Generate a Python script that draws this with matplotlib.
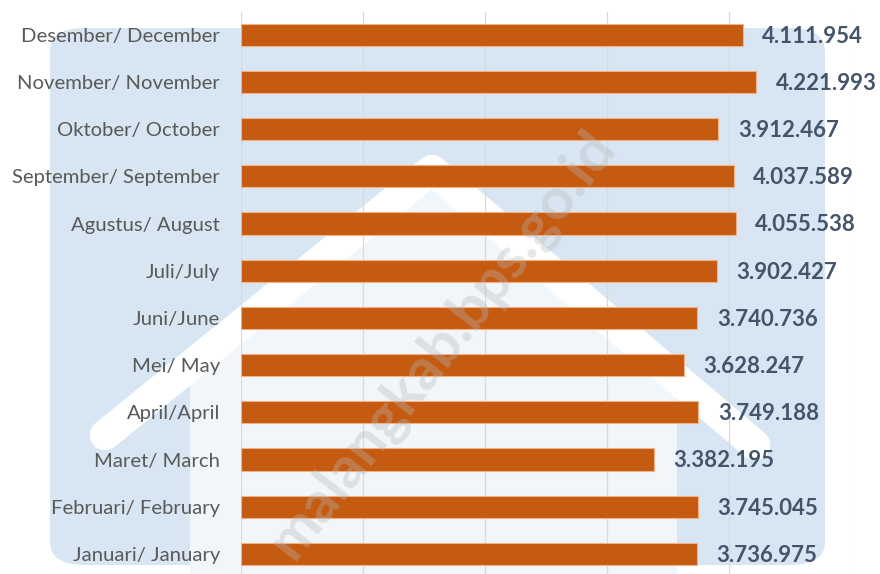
import matplotlib
matplotlib.use("Agg")
from matplotlib import pyplot as plt
from matplotlib.patches import FancyBboxPatch, Polygon
from matplotlib.lines import Line2D

# data (bottom to top)
months = ["Januari/ January", "Februari/ February", "Maret/ March", "April/April",
          "Mei/ May", "Juni/June", "Juli/July", "Agustus/ August",
          "September/ September", "Oktober/ October", "November/ November",
          "Desember/ December"]
values = [3736975, 3745045, 3382195, 3749188, 3628247, 3740736, 3902427,
          4055538, 4037589, 3912467, 4221993, 4111954]
value_labels = ["3.736.975", "3.745.045", "3.382.195", "3.749.188", "3.628.247",
                "3.740.736", "3.902.427", "4.055.538", "4.037.589", "3.912.467",
                "4.221.993", "4.111.954"]
grid_ticks = [0, 1000000, 2000000, 3000000, 4000000, 5000000]

W, H = 880, 574
fig = plt.figure(figsize=(W / 100, H / 100), dpi=100)
fig.patch.set_facecolor("white")

# faint watermark background (logo shape), pixel coords from top-left
def fx(x):
    return x / W

def fy(y):
    return 1 - y / H

bg = fig.add_axes([0, 0, 1, 1], zorder=0)
bg.set_xlim(0, 1)
bg.set_ylim(0, 1)
bg.axis("off")
bg.add_patch(FancyBboxPatch((fx(50), fy(565)), fx(775), 537 / H,
                            boxstyle="round,pad=0,rounding_size=0.04",
                            facecolor="#D7E6F2", edgecolor="none"))
house = [(fx(190), fy(574)), (fx(190), fy(380)), (fx(432), fy(190)),
         (fx(677), fy(390)), (fx(677), fy(574))]
bg.add_patch(Polygon(house, closed=True, facecolor="#F1F6FB", edgecolor="none"))
bg.add_line(Line2D([fx(105), fx(432), fx(755)], [fy(435), fy(170), fy(445)],
                   color="white", lw=22, solid_capstyle="round",
                   solid_joinstyle="round"))

ax = fig.add_axes([241 / W, 0, 610 / W, 562 / H], zorder=1)
ax.patch.set_alpha(0)

y = list(range(len(months)))
ax.barh(y, values, height=0.47, color="#C55A11", edgecolor="#F4B183",
        linewidth=0.8, zorder=3)

for yi, v, lab in zip(y, values, value_labels):
    ax.annotate(lab, xy=(v, yi), xytext=(14, -1), textcoords="offset points",
                ha="left", va="center", fontsize=16, fontweight="bold",
                color="#44546A", family="Lato", annotation_clip=False)

ax.set_xlim(0, 5000000)
ax.set_ylim(-0.424, 11.48)
ax.set_xticks(grid_ticks)
ax.set_xticklabels([])
ax.xaxis.grid(True, color="#D9D9D9", lw=0.9, zorder=0)
ax.set_yticks(y)
ax.set_yticklabels(months, fontsize=14.6, color="#595959", family="Lato")
ax.tick_params(axis="both", length=0)
ax.tick_params(axis="y", pad=15)
for s in ax.spines.values():
    s.set_visible(False)

# watermark text
fig.text(0.503, 0.40, "malangkab.bps.go.id", rotation=52, ha="center", va="center",
         fontsize=42, fontweight="bold", color="#B8B8B8", alpha=0.35,
         family="Lato", zorder=10)

fig.savefig("out.png", dpi=100)
